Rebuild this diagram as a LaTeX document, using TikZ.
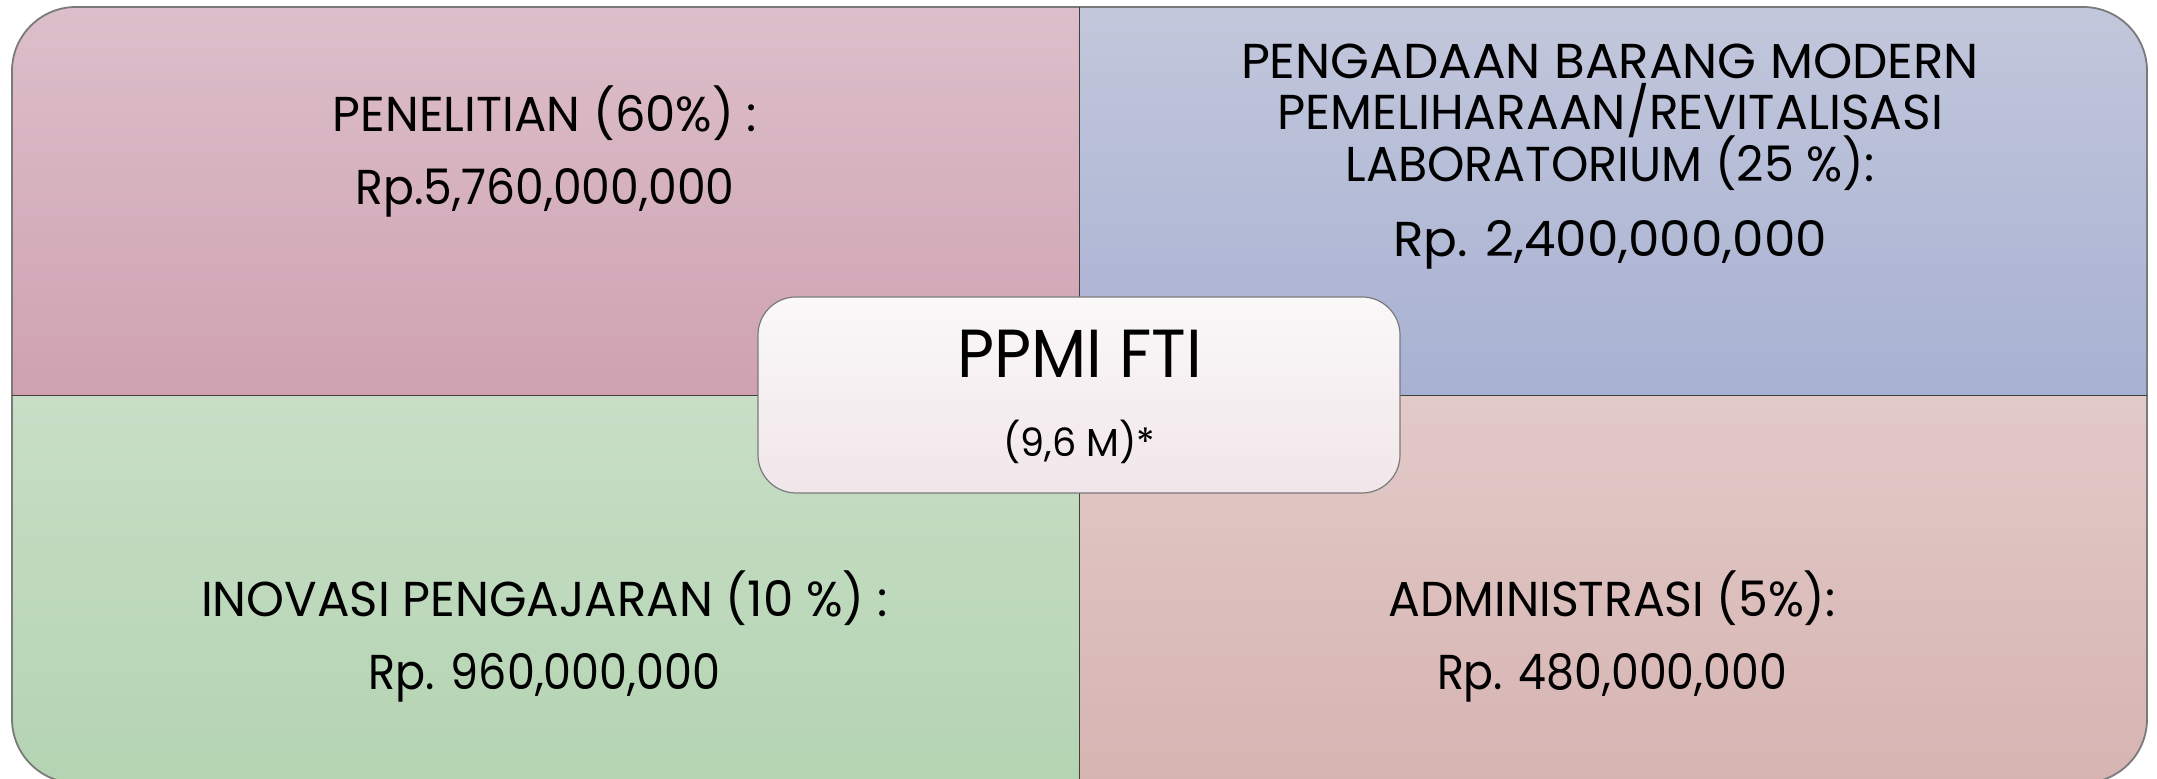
\documentclass[tikz,border=0pt]{standalone}
\usepackage{fontspec}
\setmainfont{Poppins}
\usepackage{graphicx}
\definecolor{tlTop}{HTML}{DCBFCA}
\definecolor{tlBot}{HTML}{CFA1B1}
\definecolor{trTop}{HTML}{C2C7DB}
\definecolor{trBot}{HTML}{A8B1D3}
\definecolor{blTop}{HTML}{C8DEC6}
\definecolor{blBot}{HTML}{B4D4B2}
\definecolor{brTop}{HTML}{E2CAC8}
\definecolor{brBot}{HTML}{D6B4B2}
\definecolor{ctTop}{HTML}{FAF8F9}
\definecolor{ctBot}{HTML}{F1E6EA}
\definecolor{edge}{HTML}{7A7A7A}
\definecolor{divider}{HTML}{404040}
\newcommand\fitw[2]{\resizebox{#1pt}{\height}{#2}}
\begin{document}
\begin{tikzpicture}[x=0.5pt,y=0.5pt,
  txt/.style={inner sep=0pt, anchor=base, text=black, font=\fontsize{24.5}{28}\selectfont}]
\useasboundingbox (0,0) rectangle (2157,779);
% quadrants
\shade[top color=tlTop, bottom color=tlBot] (12,383.5) -- (12,708) arc[start angle=180, end angle=90, radius=32pt] -- (1079.5,772) -- (1079.5,383.5) -- cycle;
\shade[top color=trTop, bottom color=trBot] (1079.5,383.5) -- (1079.5,772) -- (2083,772) arc[start angle=90, end angle=0, radius=32pt] -- (2147,383.5) -- cycle;
\shade[top color=blTop, bottom color=blBot] (12,383.5) -- (12,60) arc[start angle=180, end angle=270, radius=32pt] -- (1079.5,-4) -- (1079.5,383.5) -- cycle;
\shade[top color=brTop, bottom color=brBot] (1079.5,383.5) -- (1079.5,-4) -- (2083,-4) arc[start angle=270, end angle=360, radius=32pt] -- (2147,383.5) -- cycle;
% outer border
\draw[edge, line width=0.9pt, rounded corners=32pt] (12,-4) rectangle (2147,772);
% dividers
\draw[divider, line width=0.6pt] (1079.5,-4) -- (1079.5,772);
\draw[divider, line width=0.6pt] (12,383.5) -- (2147,383.5);
% center box
\node[draw=edge, line width=0.6pt, rounded corners=19pt, top color=ctTop, bottom color=ctBot,
      minimum width=321pt, minimum height=98pt, inner sep=0pt] (ppmi) at (1079,384) {};
\node[txt, font=\fontsize{34}{38}\selectfont] (ppmit) at (1079.5,401) {\fitw{122.5}{PPMI FTI}};
\node[txt, font=\fontsize{19.5}{22}\selectfont] (ppmiv) at (1079.5,322) {\fitw{76}{(9,6 M)*}};
% TL
\node[txt] (tl1) at (545,647.3) {\fitw{212}{PENELITIAN (60\%) :}};
\node[txt] (tl2) at (545,574) {\fitw{189.5}{Rp.5,760,000,000}};
% TR
\node[txt] (tr1) at (1610,700.7) {\fitw{369}{PENGADAAN BARANG MODERN}};
\node[txt] (tr2) at (1610,649) {\fitw{333}{PEMELIHARAAN/REVITALISASI}};
\node[txt] (tr3) at (1610,597.3) {\fitw{264.5}{LABORATORIUM (25 \%):}};
\node[txt] (tr4) at (1610,522) {\fitw{217}{Rp. 2,400,000,000}};
% BL
\node[txt] (bl1) at (544.5,162.3) {\fitw{343.5}{INOVASI PENGAJARAN (10 \%) :}};
\node[txt] (bl2) at (544.5,89.5) {\fitw{176}{Rp. 960,000,000}};
% BR
\node[txt] (br1) at (1612,162.3) {\fitw{223.5}{ADMINISTRASI (5\%):}};
\node[txt] (br2) at (1612,89.5) {\fitw{175}{Rp. 480,000,000}};
\end{tikzpicture}
\end{document}
